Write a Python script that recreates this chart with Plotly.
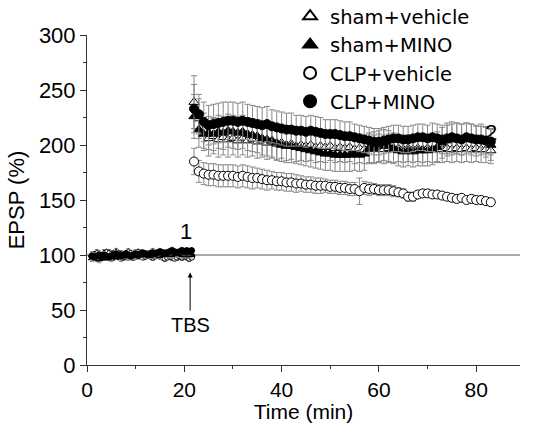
import plotly.graph_objects as go

# ---------------- data ----------------
base_t = [1.0, 1.5, 2.0, 2.5, 3.0, 3.5, 4.0, 4.5, 5.0, 5.5, 6.0, 6.5, 7.0, 7.5,
          8.0, 8.5, 9.0, 9.5, 10.0, 10.5, 11.0, 11.5, 12.0, 12.5, 13.0, 13.5, 14.0,
          14.5, 15.0, 15.5, 16.0, 16.5, 17.0, 17.5, 18.0, 18.5, 19.0, 19.5, 20.0,
          20.5, 21.0, 21.5]

sham_veh_base = [100, 101, 102, 101, 100, 102, 103, 102, 101, 102, 103, 102, 101, 100,
                 102, 103, 102, 101, 102, 103, 102, 101, 100, 101, 102, 103, 102, 101,
                 100, 101, 102, 101, 100, 101, 102, 101, 100, 101, 100, 99, 100, 101]
sham_mino_base = [97, 98, 97, 96, 97, 98, 97, 98, 97, 98, 99, 98, 97, 98,
                  99, 98, 99, 100, 99, 100, 99, 100, 101, 100, 99, 100, 101, 100,
                  99, 100, 101, 100, 101, 100, 101, 102, 101, 100, 101, 102, 101, 100]
clp_veh_base = [99, 100, 99, 98, 99, 100, 99, 100, 99, 98, 99, 100, 101, 100,
                99, 100, 99, 98, 99, 100, 99, 98, 99, 100, 99, 98, 99, 100,
                99, 98, 97, 98, 99, 98, 97, 98, 99, 98, 99, 98, 97, 98]
clp_mino_base = [99, 98, 99, 100, 99, 100, 99, 98, 99, 100, 101, 100, 99, 100,
                 101, 100, 99, 100, 101, 100, 101, 102, 101, 100, 101, 102, 101, 102,
                 103, 102, 101, 102, 103, 104, 103, 102, 103, 104, 103, 104, 103, 104]
base_err = [3, 2, 3, 3, 2, 3, 2, 3, 3, 2, 3, 2, 3, 3, 2, 3, 2, 3, 3, 2, 3,
            2, 3, 3, 2, 3, 2, 3, 3, 2, 3, 2, 3, 3, 2, 3, 2, 3, 3, 2, 3, 2]

post_t = [22, 23, 24, 25, 26, 27, 28, 29, 30, 31, 32, 33, 34, 35, 36, 37, 38, 39, 40,
          41, 42, 43, 44, 45, 46, 47, 48, 49, 50, 51, 52, 53, 54, 55, 56, 57, 58, 59,
          60, 61, 62, 63, 64, 65, 66, 67, 68, 69, 70, 71, 72, 73, 74, 75, 76, 77, 78,
          79, 80, 81, 82, 83]

clp_veh = [185, 176, 174, 173, 173, 172, 172, 172, 172, 171, 172, 171, 170, 170, 169,
           168, 168, 167, 167, 166, 166, 165, 165, 164, 164, 163, 163, 163, 162, 162,
           161, 161, 160, 160, 158, 161, 160, 160, 159, 159, 159, 158, 157, 156, 153,
           153, 155, 156, 156, 155, 155, 154, 153, 152, 151, 152, 150, 151, 150, 150,
           149, 148]
clp_veh_err = [12, 10, 10, 10, 10, 10, 10, 10, 10, 10, 10, 10, 10, 9, 9, 9, 8, 8, 8,
               8, 8, 8, 7, 7, 7, 7, 7, 6, 6, 6, 6, 6, 6, 6, 12, 6, 6, 5, 5, 5, 5, 5,
               4, 4, 4, 4, 3, 3, 3, 3, 3, 3, 3, 3, 3, 3, 3, 2, 2, 2, 2, 2]

clp_mino = [233, 228, 221, 218, 219, 220, 221, 222, 222, 221, 222, 221, 220, 219, 218,
            219, 217, 216, 215, 214, 214, 213, 213, 212, 213, 212, 211, 210, 210, 210,
            209, 208, 208, 207, 206, 205, 204, 203, 203, 204, 205, 206, 206, 205, 205,
            206, 207, 207, 206, 207, 206, 205, 206, 207, 206, 205, 207, 206, 205, 205,
            204, 203]
clp_mino_err = [22, 18, 18, 18, 18, 18, 18, 17, 17, 17, 17, 16, 16, 16, 16, 16, 15,
                15, 15, 15, 15, 14, 14, 14, 14, 14, 14, 13, 13, 13, 13, 13, 13, 12,
                12, 12, 12, 12, 12, 12, 12, 12, 12, 12, 12, 12, 12, 12, 12, 13, 13,
                13, 14, 14, 14, 14, 13, 13, 12, 12, 12, 12]

sham_veh = [239, 224, 213, 206, 208, 205, 207, 205, 206, 204, 206, 204, 205, 203, 204,
            202, 203, 201, 202, 200, 201, 199, 200, 199, 200, 198, 199, 198, 199, 197,
            198, 197, 198, 196, 197, 196, 197, 196, 197, 196, 197, 196, 197, 196, 197,
            196, 197, 196, 197, 196, 197, 196, 197, 196, 197, 196, 197, 196, 197, 196,
            196, 195]
sham_veh_err = [24, 18, 16, 16, 16, 16, 16, 16, 15, 15, 15, 15, 15, 15, 15, 15, 15,
                15, 14, 14, 14, 14, 14, 14, 14, 14, 14, 14, 13, 13, 13, 13, 13, 13,
                13, 13, 13, 13, 13, 13, 13, 12, 12, 12, 12, 12, 12, 12, 12, 12, 12,
                12, 12, 12, 12, 12, 12, 12, 12, 12, 12, 12]

sham_mino = [226, 214, 210, 211, 210, 212, 211, 213, 212, 211, 212, 210, 209, 208, 206,
             205, 204, 202, 200, 199, 199, 198, 197, 196, 195, 194, 193, 192, 192, 191,
             191, 191, 191, 192, 191, 192, 197, 198, 199, 200, 199, 197, 195, 194, 195,
             194, 195, 195, 195, 196, 198, 202, 204, 205, 206, 205, 206, 205, 204, 205,
             203, 200]
sham_mino_err = [20, 16, 15, 15, 15, 15, 15, 15, 15, 15, 15, 15, 15, 15, 15, 15, 15,
                 15, 15, 15, 15, 15, 15, 15, 15, 15, 15, 15, 15, 15, 15, 15, 15, 15,
                 15, 15, 14, 14, 14, 14, 14, 14, 14, 14, 14, 14, 14, 14, 14, 14, 14,
                 14, 14, 14, 14, 14, 14, 14, 14, 14, 14, 14]

labels = ["sham+vehicle", "sham+MINO", "CLP+vehicle", "CLP+MINO"]

# ---------------- styles ----------------
FONT = "Liberation Sans, Arial, sans-serif"
LEGFONT = "DejaVu Sans, Liberation Sans, sans-serif"
ERRC = "#8a8a8a"
AXC = "#333333"

series = [
    # (label, base, post, post_err, symbol, fill, rank)
    (labels[2], clp_veh_base, clp_veh, clp_veh_err, "circle", "white", 3),
    (labels[0], sham_veh_base, sham_veh, sham_veh_err, "triangle-up", "white", 1),
    (labels[1], sham_mino_base, sham_mino, sham_mino_err, "triangle-up", "black", 2),
    (labels[3], clp_mino_base, clp_mino, clp_mino_err, "circle", "black", 4),
]

fig = go.Figure()
for name, base, post, perr, sym, fill, rank in series:
    fig.add_trace(go.Scatter(
        x=base_t, y=base, mode="markers", showlegend=False,
        error_y=dict(type="data", array=base_err, color=ERRC, thickness=1, width=2),
        marker=dict(symbol=sym, size=6, color=fill, line=dict(color="black", width=1)),
        cliponaxis=False,
    ))
    fig.add_trace(go.Scatter(
        x=post_t, y=post, mode="markers", name=name, legendrank=rank,
        error_y=dict(type="data", array=perr, color=ERRC, thickness=1, width=3),
        marker=dict(symbol=sym, size=9, color=fill, line=dict(color="black", width=1)),
        cliponaxis=False,
    ))

# reference line at 100 %
fig.add_shape(type="line", xref="paper", yref="y", x0=0, x1=1, y0=100, y1=100,
              line=dict(color="#555555", width=1), layer="below")

# annotations
fig.add_annotation(x=20.4, y=121, text="1", showarrow=False,
                   font=dict(family=FONT, size=22, color="black"))
fig.add_annotation(x=83, y=211, text="2", showarrow=False,
                   font=dict(family=FONT, size=22, color="black"))
fig.add_annotation(x=21.2, y=36, text="TBS", showarrow=False,
                   font=dict(family=FONT, size=20, color="black"))
fig.add_annotation(x=21.2, y=84, ax=21.2, ay=48, axref="x", ayref="y",
                   text="", showarrow=True, arrowhead=2, arrowsize=1,
                   arrowwidth=1, arrowcolor="black")

fig.update_layout(
    width=539, height=423,
    margin=dict(l=87, r=19, t=35, b=58, autoexpand=False),
    paper_bgcolor="white", plot_bgcolor="white",
    font=dict(family=FONT, size=22, color="black"),
    showlegend=True,
    legend=dict(x=0.469, y=1.115, xanchor="left", yanchor="top",
                bgcolor="rgba(0,0,0,0)", font=dict(family=LEGFONT, size=19.5),
                itemsizing="constant", tracegroupgap=0),
    xaxis=dict(range=[0, 89], showgrid=False, zeroline=False, automargin=False,
               showline=True, linecolor=AXC, linewidth=1,
               ticks="outside", ticklen=6, tickcolor=AXC, dtick=20, tick0=0,
               minor=dict(ticks="outside", ticklen=3, dtick=10, tickcolor=AXC),
               title=dict(text="Time (min)", font=dict(size=21), standoff=4),
               tickfont=dict(size=21)),
    yaxis=dict(range=[0, 300], showgrid=False, zeroline=False, automargin=False,
               showline=True, linecolor=AXC, linewidth=1,
               ticks="outside", ticklen=6, tickcolor=AXC, dtick=50, tick0=0,
               minor=dict(ticks="outside", ticklen=3, dtick=25, tickcolor=AXC),
               title=dict(text="EPSP (%)", font=dict(size=22), standoff=8),
               tickfont=dict(size=22)),
)

fig.write_html("out.html", config={"displayModeBar": False},
               post_script="document.body.style.margin='0px';document.body.style.padding='0px';")
